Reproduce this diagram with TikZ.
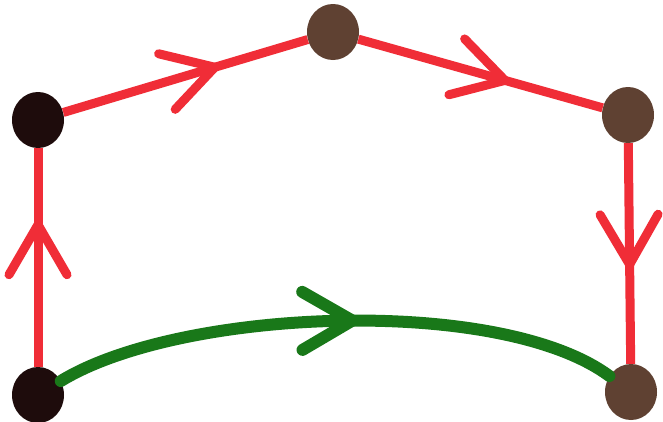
\documentclass[tikz,border=0pt]{standalone}
\usetikzlibrary{shapes.geometric,decorations.markings}
\definecolor{redline}{RGB}{240,45,55}
\definecolor{greenline}{RGB}{25,120,25}
\definecolor{darkdot}{RGB}{30,12,12}
\definecolor{browndot}{RGB}{95,65,50}
\tikzset{
  dot/.style={ellipse,minimum width=52pt,minimum height=56pt,inner sep=0pt},
  blackdot/.style={dot,fill=darkdot},
  browndotstyle/.style={dot,fill=browndot},
  redseg/.style={draw=redline,line width=9pt},
  greenseg/.style={draw=greenline,line width=12pt},
  chev/.style={postaction={decorate,decoration={markings,
     mark=at position #1 with {\draw[line cap=round,line join=miter]
        (-50pt,29pt)--(0pt,0pt)--(-50pt,-29pt);}}}}
}
\begin{document}
\begin{tikzpicture}[x=1pt,y=-1pt]
\useasboundingbox (0,0) rectangle (663,421);
\fill[white] (0,0) rectangle (663,421);
\node[blackdot] (A) at (38,395) {};
\node[blackdot] (B) at (38,120) {};
\node[browndotstyle] (C) at (333,32) {};
\node[browndotstyle] (D) at (628,115) {};
\node[browndotstyle] (E) at (631,392) {};
\draw[redseg,chev=0.65] (A) -- (B);
\draw[redseg,chev=0.62] (B) -- (C);
\draw[redseg,chev=0.6] (C) -- (D);
\draw[redseg,chev=0.55] (D) -- (E);
\draw[greenseg,line cap=round,chev=0.53] (A) .. controls (180,308) and (500,295) .. (E);
\end{tikzpicture}
\end{document}
